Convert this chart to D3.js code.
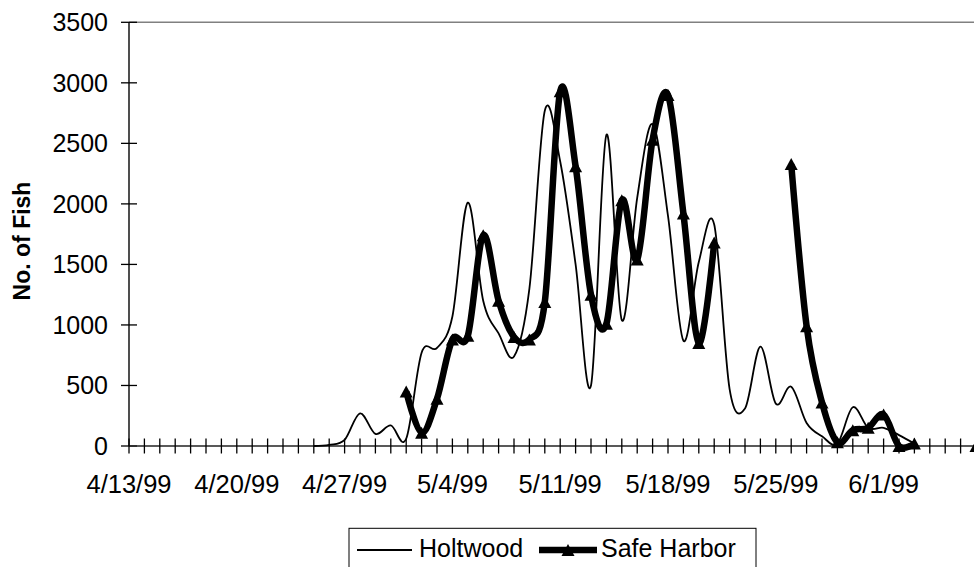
<!DOCTYPE html>
<html>
<head>
<meta charset="utf-8">
<script src="https://cdn.jsdelivr.net/npm/d3@7/dist/d3.min.js"></script>
<style>
  html, body { margin: 0; padding: 0; background: #fff; }
  svg { display: block; font-family: "Liberation Sans", Arial, sans-serif; }
</style>
</head>
<body>
<svg id="chart" width="974" height="567"></svg>
<script>
// Daily fish counts at the two fishways, spring 1999
const days = [
  "4/25/99","4/26/99","4/27/99","4/28/99","4/29/99","4/30/99",
  "5/1/99","5/2/99","5/3/99","5/4/99","5/5/99","5/6/99","5/7/99","5/8/99","5/9/99","5/10/99",
  "5/11/99","5/12/99","5/13/99","5/14/99","5/15/99","5/16/99","5/17/99","5/18/99","5/19/99","5/20/99",
  "5/21/99","5/22/99","5/23/99","5/24/99","5/25/99","5/26/99","5/27/99","5/28/99","5/29/99","5/30/99","5/31/99",
  "6/1/99","6/2/99","6/3/99","6/4/99","6/5/99","6/6/99","6/7/99"
];
const holtwood = [
  0, 10, 50, 270, 100, 170,
  60, 770, 810, 1070, 2010, 1200, 930, 740, 1300, 2770,
  2350, 1500, 500, 2570, 1040, 2050, 2660, 1900, 870, 1520,
  1830, 470, 310, 820, 350, 490, 190, 80, 20, 320, 150,
  150, 90, 20, null, null, null, null
];
const safeHarbor = [
  null, null, null, null, null, null,
  450, 110, 390, 880, 910, 1740, 1200, 900, 880, 1190,
  2930, 2310, 1250, 1010, 2030, 1540, 2530, 2900, 1920, 850,
  1680, null, null, null, null, 2330, 990, 360, 30, 130, 150,
  260, 0, 20, null, null, null, 0
];
const axisStart = "4/13/99";
const axisEnd = "6/7/99";
const xTickLabels = ["4/13/99","4/20/99","4/27/99","5/4/99","5/11/99","5/18/99","5/25/99","6/1/99"];
const yTicks = [0, 500, 1000, 1500, 2000, 2500, 3000, 3500];
const seriesNames = ["Holtwood", "Safe Harbor"];

(function () {
  const parse = d3.timeParse("%m/%d/%y");
  const svg = d3.select("#chart");

  const plotLeft = 129, plotTop = 22.3, plotBottom = 446, dayWidth = 15.4;
  const x0 = parse(axisStart), x1 = parse(axisEnd);
  const nDays = d3.timeDay.count(x0, x1);
  const x = d3.scaleTime().domain([x0, x1]).range([plotLeft, plotLeft + nDays * dayWidth]);
  const y = d3.scaleLinear().domain([0, 3500]).range([plotBottom, plotTop]);

  // plot area top border
  svg.append("line")
    .attr("x1", plotLeft).attr("x2", 980).attr("y1", y(3500)).attr("y2", y(3500))
    .attr("stroke", "#808080").attr("stroke-width", 1.5);

  // y axis
  const yAxis = svg.append("g").attr("transform", `translate(${plotLeft},0)`);
  yAxis.append("line").attr("x1", 0).attr("x2", 0).attr("y1", y(3500)).attr("y2", y(0))
    .attr("stroke", "#222").attr("stroke-width", 1.6);
  yAxis.selectAll("line.tick").data(yTicks).join("line")
    .attr("class", "tick")
    .attr("x1", -8).attr("x2", 8).attr("y1", d => y(d)).attr("y2", d => y(d))
    .attr("stroke", "#000").attr("stroke-width", 1.3);
  yAxis.selectAll("text").data(yTicks).join("text")
    .attr("x", -21).attr("y", d => y(d)).attr("dy", "0.35em")
    .attr("text-anchor", "end").attr("font-size", 25).attr("fill", "#000")
    .text(d => d);

  // x axis with a tick at every day
  const xAxis = svg.append("g");
  xAxis.append("line").attr("x1", plotLeft).attr("x2", 980).attr("y1", plotBottom).attr("y2", plotBottom)
    .attr("stroke", "#222").attr("stroke-width", 1.6);
  const dayTicks = d3.timeDay.range(x0, d3.timeDay.offset(x1, 1));
  xAxis.selectAll("line.tick").data(dayTicks).join("line")
    .attr("class", "tick")
    .attr("x1", d => x(d)).attr("x2", d => x(d)).attr("y1", plotBottom - 7.5).attr("y2", plotBottom + 7.5)
    .attr("stroke", "#000").attr("stroke-width", 1.3);
  xAxis.selectAll("text").data(xTickLabels).join("text")
    .attr("x", d => x(parse(d))).attr("y", 493)
    .attr("text-anchor", "middle").attr("font-size", 25.5).attr("fill", "#000")
    .text(d => d);

  // axis title
  svg.append("text")
    .attr("transform", `translate(30,241) rotate(-90)`)
    .attr("text-anchor", "middle").attr("font-size", 23).attr("font-weight", "bold")
    .text("No. of Fish");

  // series
  const rowsH = days.map((d, i) => ({ date: parse(d), v: holtwood[i] }));
  const rowsS = days.map((d, i) => ({ date: parse(d), v: safeHarbor[i] }));
  const line = d3.line()
    .defined(d => d.v != null)
    .x(d => x(d.date)).y(d => y(d.v))
    .curve(d3.curveCatmullRom.alpha(0));

  svg.append("path").datum(rowsH).attr("d", line)
    .attr("fill", "none").attr("stroke", "#000").attr("stroke-width", 1.8)
    .attr("stroke-linejoin", "round");
  svg.append("path").datum(rowsS).attr("d", line)
    .attr("fill", "none").attr("stroke", "#000").attr("stroke-width", 6.5)
    .attr("stroke-linejoin", "round").attr("stroke-linecap", "butt");

  const tri = (cx, cy, w, h) =>
    `M${cx},${cy - h / 2}L${cx + w / 2},${cy + h / 2}L${cx - w / 2},${cy + h / 2}Z`;
  svg.append("g").selectAll("path").data(rowsS.filter(d => d.v != null)).join("path")
    .attr("d", d => tri(x(d.date), y(d.v), 13, 12))
    .attr("fill", "#000");

  // legend
  const lg = svg.append("g");
  lg.append("rect").attr("x", 349).attr("y", 528.3).attr("width", 407).attr("height", 60)
    .attr("fill", "#fff").attr("stroke", "#000").attr("stroke-width", 1);
  lg.append("line").attr("x1", 357).attr("x2", 412).attr("y1", 550).attr("y2", 550)
    .attr("stroke", "#000").attr("stroke-width", 1.8);
  lg.append("text").attr("x", 419).attr("y", 557).attr("font-size", 25).text(seriesNames[0]);
  lg.append("line").attr("x1", 539).attr("x2", 597).attr("y1", 550).attr("y2", 550)
    .attr("stroke", "#000").attr("stroke-width", 6.5);
  lg.append("path").attr("d", tri(568, 550, 13, 12)).attr("fill", "#000");
  lg.append("text").attr("x", 601).attr("y", 557).attr("font-size", 25).text(seriesNames[1]);
})();
</script>
</body>
</html>
